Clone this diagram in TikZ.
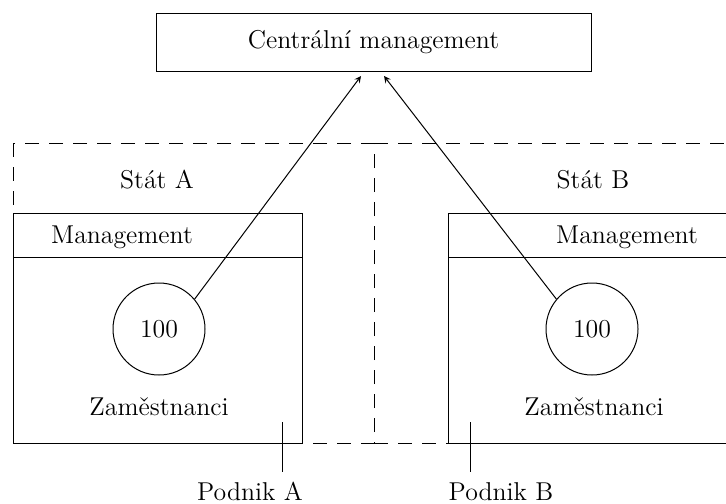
\documentclass[tikz,border=0pt]{standalone}
\usepackage{tikz}
\usetikzlibrary{shapes,arrows}
\usetikzlibrary{calc}
\usetikzlibrary{positioning}

\newcommand{\dgfont}{\fontsize{12.9}{15.5}\selectfont}

\begin{document}
\begin{tikzpicture}[x=0.5pt,y=-0.5pt,line width=0.5pt,>=stealth,
	top_node/.style={rectangle,draw,minimum width=217.5pt,minimum height=29pt,inner sep=0pt,font=\dgfont},
	count_node/.style={circle,draw,minimum size=46pt,inner sep=0pt,font=\dgfont},
	text_node/.style={anchor=base,inner sep=0pt,font=\dgfont},
	state_line/.style={dash pattern=on 7pt off 5pt}]

	\clip (0,0) rectangle (726,503);

	% states
	\draw[state_line] (13,143) rectangle (374,443);
	\draw[state_line] (374,143) -- (760,143);
	\draw[state_line] (374,443) -- (760,443);

	% companies
	\draw (13,213) rectangle (302,443);
	\draw (13,257) -- (302,257);
	\draw (448,213) rectangle (760,443);
	\draw (448,257) -- (760,257);

	\node[top_node] (central) at (373.5,42) {Centrální management};

	\node[text_node] (statA) at (157,188) {Stát A};
	\node[text_node] (statB) at (593,188) {Stát B};
	\node[text_node] (mgmtA) at (122,243) {Management};
	\node[text_node] (mgmtB) at (627,243) {Management};
	\node[count_node] (cntA) at (159,329) {100};
	\node[count_node] (cntB) at (592,329) {100};
	\node[text_node] (empA) at (159,415) {Zaměstnanci};
	\node[text_node] (empB) at (594,415) {Zaměstnanci};
	\node[text_node] (podA) at (250,500) {Podnik A};
	\node[text_node] (podB) at (501,500) {Podnik B};

	\coordinate (tipA) at (361,76);
	\coordinate (tipB) at (384,76);
	\coordinate (tickA) at (282,422);
	\coordinate (tickB) at (470,422);

	\draw[->] (cntA.40) -- (tipA);
	\draw[->] (cntB.140) -- (tipB);
	\draw (tickA) -- ++(0,50);
	\draw (tickB) -- ++(0,50);
\end{tikzpicture}
\end{document}
